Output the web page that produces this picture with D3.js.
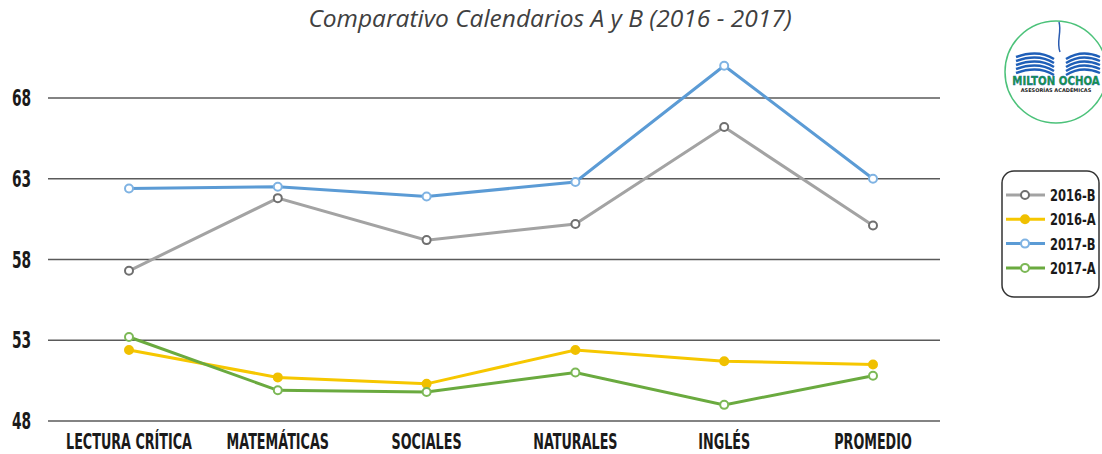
<!DOCTYPE html>
<html>
<head>
<meta charset="utf-8">
<script src="https://cdn.jsdelivr.net/npm/d3@7/dist/d3.min.js"></script>
<style>
  body { margin: 0; background: #fff; }
  .cond { font-family: "DejaVu Sans", sans-serif; font-weight: bold; }
</style>
</head>
<body>
<div class="chart"></div>
<script>
var W = 1102, H = 454;

// data
var categories = ["LECTURA CRÍTICA", "MATEMÁTICAS", "SOCIALES", "NATURALES", "INGLÉS", "PROMEDIO"];
var yTicks = [48, 53, 58, 63, 68];
var seriesNames = ["2016-B", "2016-A", "2017-B", "2017-A"];
var s2016B = [57.3, 61.8, 59.2, 60.2, 66.2, 60.1];
var s2016A = [52.4, 50.7, 50.3, 52.4, 51.7, 51.5];
var s2017B = [62.4, 62.5, 61.9, 62.8, 70.0, 63.0];
var s2017A = [53.2, 49.9, 49.8, 51.0, 49.0, 50.8];
var colors = ["#a3a3a3", "#f6c700", "#5b9bd5", "#6aaa3f"];
var markerStroke = ["#6f6f6f", "#f0c000", "#7fb3e3", "#7cb856"];
var markerFill = ["#fff", "#f0c000", "#fff", "#fff"];

var series = [s2016B, s2016A, s2017B, s2017A].map(function(v, i) {
  return { name: seriesNames[i], values: v, i: i };
});

var svg = d3.select(".chart").append("svg")
  .attr("width", W).attr("height", H);

var x = d3.scalePoint().domain(categories).range([129, 873]);
var y = d3.scaleLinear().domain([48, 68]).range([421, 98]);

// narrow bold text: squeeze DejaVu horizontally
function narrow(sel, sx) {
  return sel.attr("class", "cond")
    .attr("transform", function(d) {
      return "translate(" + d3.select(this).attr("data-x") + "," + d3.select(this).attr("data-y") + ") scale(" + sx + ",1)";
    });
}

// title
svg.append("text")
  .attr("x", 550).attr("y", 27)
  .attr("text-anchor", "middle")
  .style("font-family", "'Open Sans', sans-serif")
  .style("font-style", "italic")
  .style("font-size", "24.5px")
  .attr("fill", "#404040")
  .text("Comparativo Calendarios A y B (2016 - 2017)");

// gridlines
svg.append("g").selectAll("line")
  .data(yTicks).enter().append("line")
  .attr("x1", 48).attr("x2", 940)
  .attr("y1", function(d) { return y(d); })
  .attr("y2", function(d) { return y(d); })
  .attr("stroke", "#5a5a5a")
  .attr("stroke-width", 1.6);

// y labels
svg.append("g").selectAll("text")
  .data(yTicks).enter().append("text")
  .attr("data-x", 12)
  .attr("data-y", function(d) { return y(d) + 8; })
  .style("font-size", "23px")
  .attr("fill", "#1a1a1a")
  .text(function(d) { return d; })
  .call(narrow, 0.6);

// x labels
svg.append("g").selectAll("text")
  .data(categories).enter().append("text")
  .attr("data-x", function(d) { return x(d); })
  .attr("data-y", 449)
  .attr("text-anchor", "middle")
  .style("font-size", "22px")
  .attr("fill", "#1a1a1a")
  .text(function(d) { return d; })
  .call(narrow, 0.58);

// lines
var line = d3.line()
  .x(function(d, i) { return x(categories[i]); })
  .y(function(d) { return y(d); });

var g = svg.append("g").selectAll("g")
  .data(series).enter().append("g");

g.append("path")
  .attr("d", function(d) { return line(d.values); })
  .attr("fill", "none")
  .attr("stroke", function(d) { return colors[d.i]; })
  .attr("stroke-width", 3);

g.selectAll("circle")
  .data(function(d) { return d.values.map(function(v, k) { return { v: v, k: k, i: d.i }; }); })
  .enter().append("circle")
  .attr("cx", function(d) { return x(categories[d.k]); })
  .attr("cy", function(d) { return y(d.v); })
  .attr("r", 4)
  .attr("fill", function(d) { return markerFill[d.i]; })
  .attr("stroke", function(d) { return markerStroke[d.i]; })
  .attr("stroke-width", 2);

// legend
var leg = svg.append("g");
leg.append("rect")
  .attr("x", 1002).attr("y", 171)
  .attr("width", 97).attr("height", 126)
  .attr("rx", 12)
  .attr("fill", "#fff")
  .attr("stroke", "#333")
  .attr("stroke-width", 1.5);

var li = leg.selectAll("g.item")
  .data(series).enter().append("g")
  .attr("class", "item")
  .attr("transform", function(d, i) { return "translate(1006," + (195 + i * 24.3) + ")"; });
li.append("line")
  .attr("x1", 0).attr("x2", 39)
  .attr("stroke", function(d) { return colors[d.i]; })
  .attr("stroke-width", 3);
li.append("circle")
  .attr("cx", 19).attr("r", 4)
  .attr("fill", function(d) { return markerFill[d.i]; })
  .attr("stroke", function(d) { return markerStroke[d.i]; })
  .attr("stroke-width", 2);
li.append("text")
  .attr("data-x", 44).attr("data-y", 6)
  .style("font-size", "16px")
  .attr("fill", "#1a1a1a")
  .text(function(d) { return d.name; })
  .call(narrow, 0.72);

// logo (rough)
var logo = svg.append("g").attr("transform", "translate(1056,72)");
logo.append("circle").attr("r", 51)
  .attr("fill", "#fff").attr("stroke", "#4cc27a").attr("stroke-width", 1.5);
logo.append("path")
  .attr("d", "M3,-50 C6,-40 0,-30 4,-20")
  .attr("fill", "none").attr("stroke", "#2a5bb0").attr("stroke-width", 1.5);
[0, 1, 2, 3, 4].forEach(function(k) {
  var yy = -17 + k * 4;
  logo.append("path")
    .attr("d", "M-2," + (yy + 4) + " Q-18," + (yy - 6) + " -40," + (yy + 2))
    .attr("fill", "none").attr("stroke", "#1f5fb8").attr("stroke-width", 2.4);
  logo.append("path")
    .attr("d", "M10," + (yy + 4) + " Q26," + (yy - 6) + " 44," + (yy + 2))
    .attr("fill", "none").attr("stroke", "#1f5fb8").attr("stroke-width", 2.4);
});
logo.append("text")
  .attr("transform", "translate(0,13) scale(0.85,1)")
  .attr("text-anchor", "middle")
  .style("font-family", "'DejaVu Sans', sans-serif")
  .style("font-weight", "bold")
  .style("font-size", "12px")
  .attr("fill", "#159a3a")
  .attr("stroke", "#1f5fb8").attr("stroke-width", 0.4)
  .text("MILTON OCHOA");
logo.append("text")
  .attr("x", 0).attr("y", 20)
  .attr("text-anchor", "middle")
  .style("font-family", "'DejaVu Sans', sans-serif")
  .style("font-weight", "bold")
  .style("font-size", "5px")
  .attr("fill", "#222")
  .text("ASESORÍAS ACADÉMICAS");
</script>
</body>
</html>
